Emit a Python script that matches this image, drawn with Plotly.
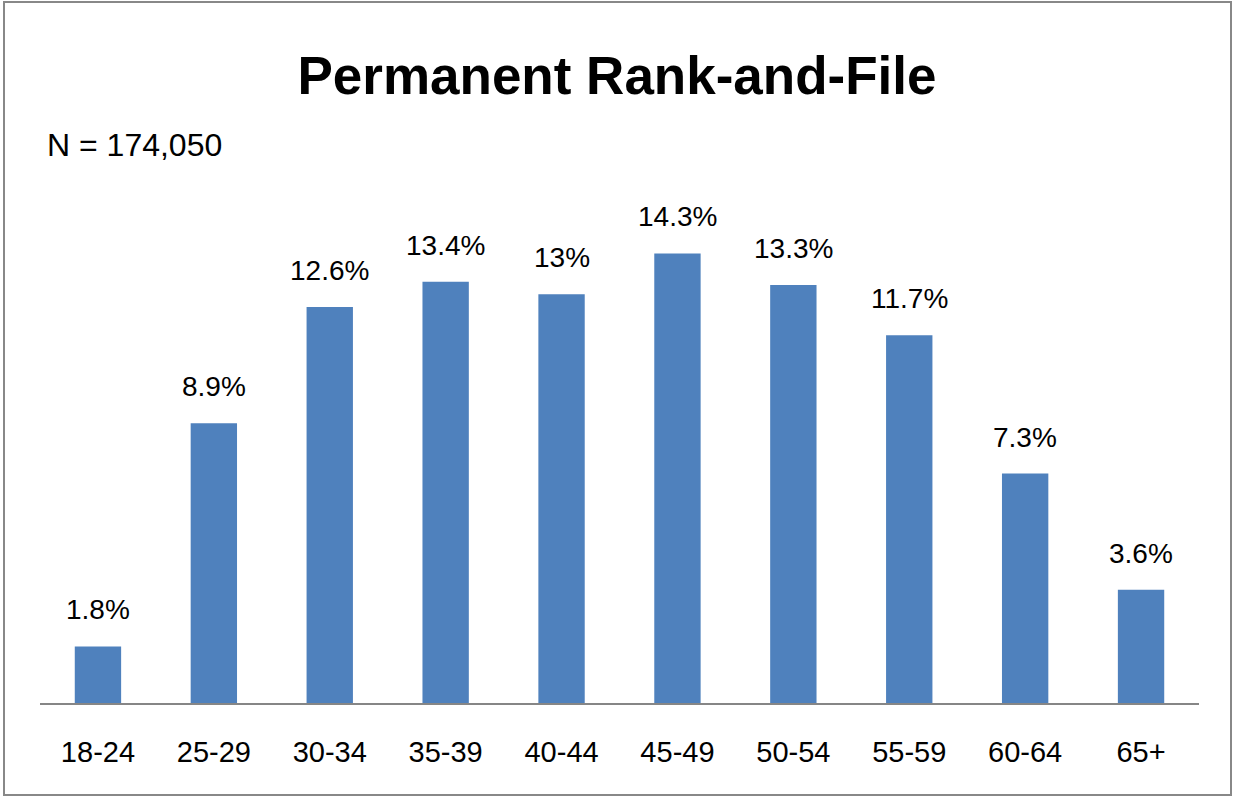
import plotly.graph_objects as go

categories = ["18-24", "25-29", "30-34", "35-39", "40-44", "45-49", "50-54", "55-59", "60-64", "65+"]
values = [1.8, 8.9, 12.6, 13.4, 13.0, 14.3, 13.3, 11.7, 7.3, 3.6]
labels = ["1.8%", "8.9%", "12.6%", "13.4%", "13%", "14.3%", "13.3%", "11.7%", "7.3%", "3.6%"]

FONT = "Liberation Sans, Arial, sans-serif"

fig = go.Figure(go.Bar(
    x=categories, y=values,
    marker=dict(color="#4F81BD", line=dict(width=0)),
    hoverinfo="x+y",
))

annotations = [
    dict(x=c, y=v, text=t, xref="x", yref="y", showarrow=False,
         xanchor="center", yanchor="bottom", yshift=19,
         font=dict(family=FONT, size=28, color="#000000"))
    for c, v, t in zip(categories, values, labels)
]
annotations.append(dict(text="N = 174,050", xref="paper", yref="paper",
                        x=(45 - 40) / 1159, xanchor="left",
                        y=(703 - 145) / 503, yanchor="middle",
                        showarrow=False,
                        font=dict(family=FONT, size=32, color="#000000")))

fig.update_layout(
    width=1234, height=798,
    paper_bgcolor="white", plot_bgcolor="white",
    margin=dict(l=40, r=35, t=200, b=95),
    bargap=0.6,
    showlegend=False,
    title=dict(text="<b>Permanent Rank-and-File</b>", x=0.5, xanchor="center",
               y=1 - 75 / 798, yanchor="middle",
               font=dict(family=FONT, size=53, color="#000000")),
    xaxis=dict(showline=True, linecolor="#868686", linewidth=1.5, ticks="",
               tickfont=dict(family=FONT, size=29, color="#000000"),
               ticklabelstandoff=22,
               showgrid=False, zeroline=False),
    yaxis=dict(range=[0, 16], visible=False, showgrid=False, zeroline=False),
    annotations=annotations,
    shapes=[dict(type="rect", xref="paper", yref="paper",
                 x0=-36 / 1159, x1=(1231 - 40) / 1159,
                 y0=-(795 - 703) / 503, y1=(703 - 2) / 503,
                 line=dict(color="#888888", width=2), fillcolor="rgba(0,0,0,0)")],
)

fig.write_html("out.html", config={"displayModeBar": False},
               post_script="document.body.style.margin='0';document.body.style.padding='0';")
